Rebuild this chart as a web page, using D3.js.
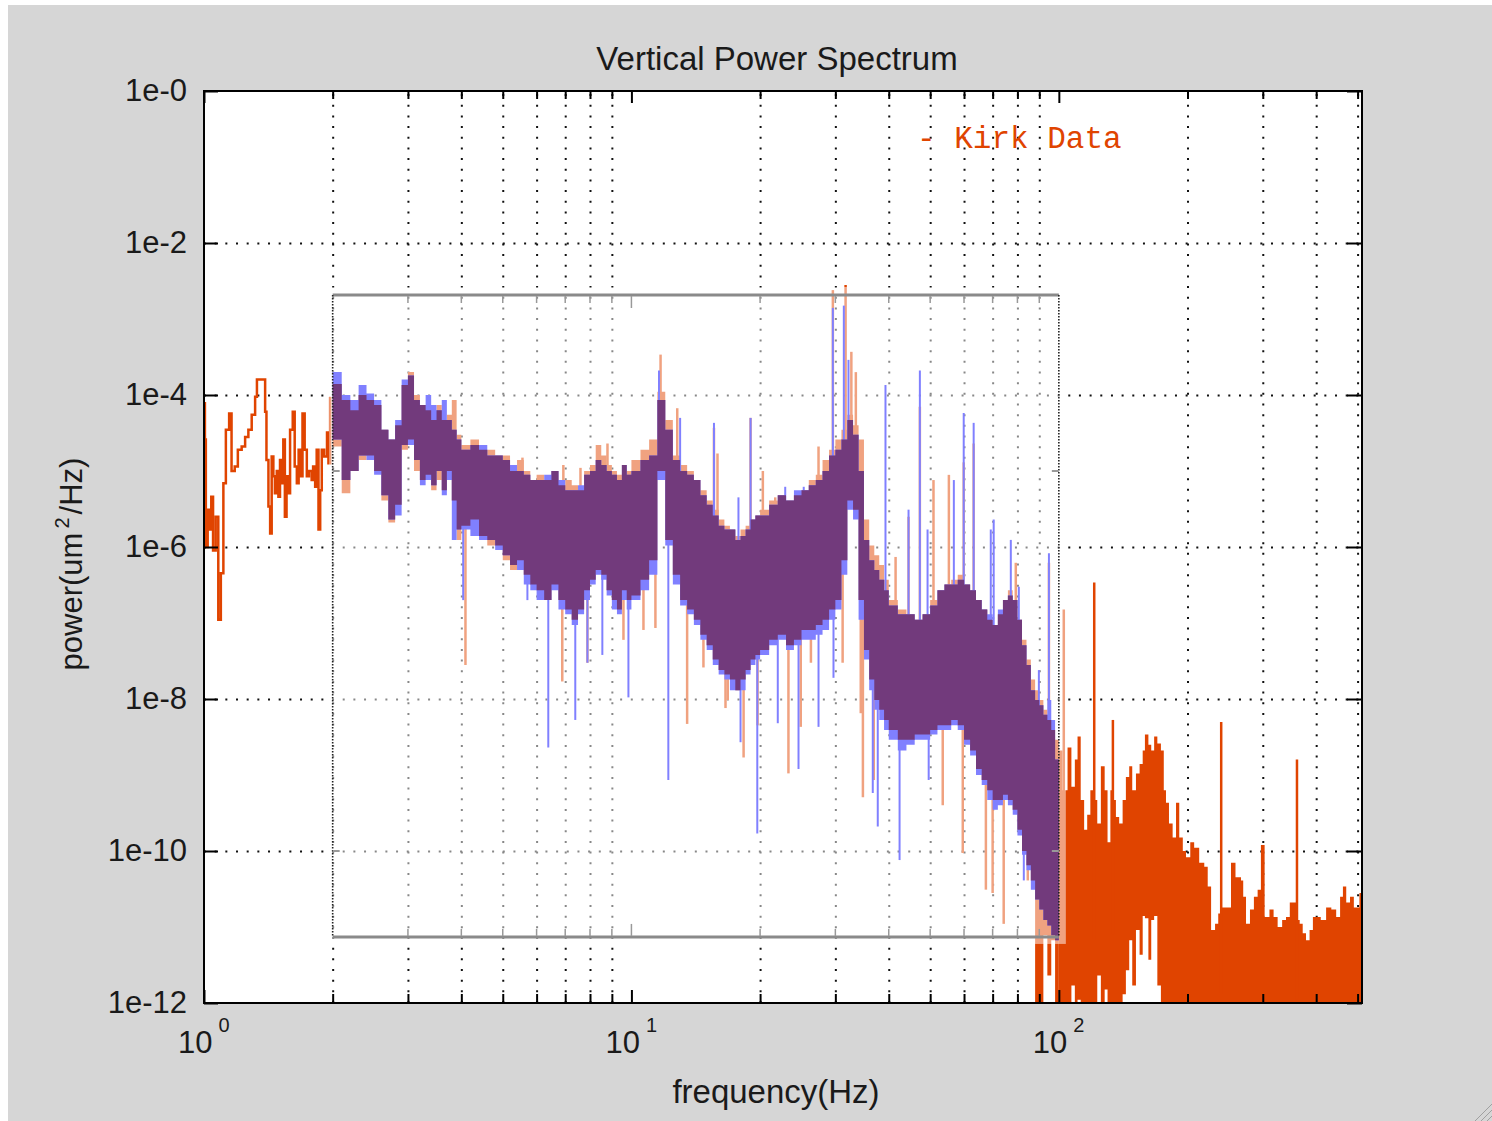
<!DOCTYPE html>
<html><head><meta charset="utf-8">
<script src="https://cdn.jsdelivr.net/npm/d3@7"></script>
<style>
html,body{margin:0;padding:0;background:#fff;}
svg{display:block;}
</style></head>
<body>
<svg id="chart" width="1492" height="1121"></svg>
<script>
// ---------------- DATA ----------------
const titleText = "Vertical Power Spectrum";
const xLabelText = "frequency(Hz)";
const legendText = "- Kirk Data";
const gridFreqs = [2,3,4,5,6,7,8,9,20,30,40,50,60,70,80,90,200,300,400,500];
const majorFreqs = [1,10,100];
const majorExp = ["0","1","2"];
const yTickVals = [1,1e-2,1e-4,1e-6,1e-8,1e-10,1e-12];
const yTickLabels = ["1e-0","1e-2","1e-4","1e-6","1e-8","1e-10","1e-12"];
const yGridVals = [1e-2,1e-4,1e-6,1e-8,1e-10];

// Kirk Data, 1-2 Hz (line)
const kirkLowFreq = [1.0,1.005,1.01,1.02,1.03,1.04,1.05,1.065,1.08,1.095,1.11,1.125,1.145,1.16,1.18,1.2,1.225,1.248,1.27,1.293,1.317,1.33,1.377,1.39,1.4,1.415,1.428,1.44,1.453,1.465,1.48,1.493,1.506,1.52,1.533,1.546,1.56,1.575,1.59,1.613,1.63,1.649,1.665,1.679,1.7,1.72,1.74,1.76,1.786,1.8,1.82,1.835,1.853,1.87,1.886,1.91,1.94,1.955,1.973];
const kirkLowPow = [7.8e-5,2.6e-5,1e-6,3.1e-6,1.7e-6,4.6e-6,9e-7,2.5e-6,1.1e-7,4.5e-7,6.9e-6,3.5e-5,5.7e-5,1e-5,1.15e-5,1.9e-5,2.1e-5,2.8e-5,3.5e-5,5.5e-5,9.5e-5,1.6e-4,1.6e-4,6e-5,1.4e-5,3.4e-6,1.5e-6,1.55e-5,8.5e-6,5.1e-6,1e-5,4.6e-6,1.4e-5,6.9e-6,2.6e-5,2.5e-6,8.5e-6,5.1e-6,3.5e-5,6e-5,1.15e-5,6.9e-6,1.9e-5,8.5e-6,5.7e-5,1.9e-5,8.5e-6,1e-5,7.6e-6,1.15e-5,6.2e-6,1.9e-5,1.7e-6,5.6e-6,1.9e-5,1.55e-5,3.2e-5,1.26e-5,9.5e-5];

// 2-100 Hz bins (bin start frequencies, last entry = end of last bin)
const boxFreq = [2,2.1,2.2,2.3,2.4,2.5,2.6,2.7,2.8,2.9,3,3.1,3.2,3.3,3.4,3.5,3.6,3.7,3.8,3.9,
 4,4.2,4.4,4.6,4.8,5,5.2,5.4,5.6,5.8,
 6,6.25,6.5,6.75,7,7.25,7.5,7.75,8,8.25,8.5,8.75,9,9.25,9.5,9.75,
 10,10.5,11,11.5,12,12.5,13,13.5,14,14.5,15,15.5,16,16.5,17,17.5,18,18.5,19,19.5,
 20,21,22,23,24,25,26,27,28,29,30,31,32,33,34,35,36,37,38,39,
 40,42,44,46,48,50,52,54,56,58,60,62,64,66,68,70,72,74,76,78,80,82,84,86,88,90,92,94,96,98,100];

const kirkBoxHi = [1.4e-4,8.6e-5,6.3e-5,1e-4,8.6e-5,7.4e-5,3.5e-5,2.6e-5,4.0e-5,1.35e-4,
 2.0e-4,1e-4,7.4e-5,6.3e-5,4.7e-5,7.4e-5,4.7e-5,5.5e-5,8.6e-5,3.0e-5,
 2.2e-5,2.6e-5,1.9e-5,1.9e-5,1.6e-5,1.6e-5,1e-5,1.4e-5,1e-5,7.6e-6,
 8.9e-6,7.6e-6,1e-5,6.5e-6,7.6e-6,6.5e-6,5.6e-6,1e-5,1.2e-5,2.2e-5,1.6e-5,1.2e-5,1e-5,8.9e-6,1.2e-5,1e-5,
 1.4e-5,1.9e-5,2.6e-5,1.1e-4,4.7e-5,1.6e-5,1.2e-5,1e-5,7.6e-6,5.6e-6,4.1e-6,3.1e-6,2.3e-6,1.9e-6,1.7e-6,1.4e-6,1.7e-6,1.9e-6,2.3e-6,2.6e-6,
 3.1e-6,4.1e-6,4.8e-6,4.1e-6,4.8e-6,5.6e-6,7.6e-6,8.9e-6,1.4e-5,1.9e-5,2.6e-5,3.5e-5,5.5e-5,4.0e-5,2.6e-5,2.3e-6,1.05e-6,7.8e-7,5.8e-7,3.7e-7,
 2.0e-7,1.5e-7,1.3e-7,1.1e-7,1.3e-7,2.0e-7,2.7e-7,3.2e-7,3.7e-7,4.3e-7,3.2e-7,2.7e-7,2.0e-7,1.5e-7,1.1e-7,9.4e-8,1.3e-7,2.0e-7,2.7e-7,2.0e-7,1.1e-7,6.0e-8,3.3e-8,1.8e-8,1.3e-8,9.7e-9,7.2e-9,5.3e-9,3.9e-9,2.9e-9];
const kirkBoxLo = [2.1e-5,5.1e-6,1e-5,1.4e-5,1.6e-5,1e-5,4.1e-6,2.1e-6,3.6e-6,1.9e-5,
 2.6e-5,1e-5,7.6e-6,8.9e-6,5.6e-6,7.6e-6,5.6e-6,1e-5,4.1e-6,1.24e-6,
 1.9e-6,2.3e-6,1.4e-6,1.05e-6,1.05e-6,6.7e-7,5.0e-7,6.7e-7,4.3e-7,3.2e-7,
 2.7e-7,2.0e-7,3.2e-7,2.0e-7,1.5e-7,1.1e-7,1.5e-7,2.7e-7,3.7e-7,5.0e-7,4.3e-7,2.7e-7,2.0e-7,1.5e-7,2.7e-7,2.0e-7,
 2.3e-7,3.7e-7,6.7e-7,1e-5,1.24e-6,4.3e-7,2.0e-7,1.5e-7,1.1e-7,7.0e-8,5.1e-8,3.3e-8,2.4e-8,2.1e-8,1.8e-8,1.3e-8,1.8e-8,2.4e-8,3.3e-8,3.8e-8,
 4.4e-8,6.0e-8,7.0e-8,5.1e-8,6.0e-8,8.1e-8,8.1e-8,9.4e-8,1.1e-7,1.5e-7,2.0e-7,6.7e-7,4.1e-6,3.1e-6,2.0e-7,4.4e-8,1.8e-8,9.7e-9,7.2e-9,5.3e-9,
 3.9e-9,2.9e-9,2.9e-9,3.4e-9,3.4e-9,3.9e-9,4.5e-9,4.5e-9,5.3e-9,4.5e-9,2.9e-9,2.1e-9,1.2e-9,8.6e-10,6.3e-10,4.7e-10,4.7e-10,5.5e-10,4.7e-10,3.5e-10,1.9e-10,1.0e-10,6.5e-11,4.1e-11,1e-13,1e-13,7.8e-12,2.3e-12,6.7e-12,1e-13];

const refBoxHi = [2.0e-4,1e-4,8.6e-5,1.35e-4,1.05e-4,8.6e-5,3.5e-5,2.6e-5,4.7e-5,1.6e-4,
 1.8e-4,8.6e-5,7.4e-5,1e-4,7.4e-5,6.3e-5,8.6e-5,4.7e-5,3.5e-5,2.6e-5,
 1.9e-5,2.2e-5,2.2e-5,1.6e-5,1.6e-5,1.4e-5,1.2e-5,1e-5,8.9e-6,7.6e-6,
 7.6e-6,8.9e-6,1e-5,7.6e-6,5.6e-6,5.6e-6,6.5e-6,8.9e-6,1e-5,1.4e-5,1.2e-5,1e-5,8.9e-6,7.6e-6,1.2e-5,8.9e-6,
 1e-5,1.4e-5,1.6e-5,8.6e-5,3.5e-5,1.4e-5,1e-5,8.9e-6,7.6e-6,4.8e-6,3.6e-6,2.6e-6,1.9e-6,1.7e-6,1.7e-6,1.24e-6,1.4e-6,1.7e-6,2.3e-6,2.6e-6,
 2.6e-6,3.6e-6,4.8e-6,4.1e-6,5.6e-6,5.6e-6,6.5e-6,7.6e-6,1e-5,1.6e-5,1.9e-5,2.6e-5,4.7e-5,3.0e-5,1e-5,1.24e-6,6.7e-7,5.0e-7,3.7e-7,2.7e-7,
 1.7e-7,1.3e-7,1.3e-7,1.1e-7,1.3e-7,1.7e-7,2.7e-7,3.2e-7,3.2e-7,3.7e-7,3.2e-7,2.7e-7,2.0e-7,1.5e-7,1.3e-7,9.4e-8,1.5e-7,2.0e-7,2.3e-7,2.0e-7,1.1e-7,5.1e-8,2.8e-8,1.3e-8,9.7e-9,8.3e-9,6.2e-9,9.7e-9,5.3e-9,1.6e-9];
const refBoxLo = [2.6e-5,7.6e-6,1e-5,1.6e-5,1.4e-5,8.9e-6,4.8e-6,2.3e-6,2.6e-6,2.2e-5,
 2.2e-5,1.4e-5,6.5e-6,7.6e-6,6.5e-6,1e-5,4.8e-6,7.6e-6,1.24e-6,1.7e-6,
 1.7e-6,1.4e-6,1.24e-6,1.24e-6,9.1e-7,7.8e-7,5.8e-7,5.0e-7,3.2e-7,2.7e-7,
 2.0e-7,2.0e-7,2.7e-7,1.5e-7,1.3e-7,9.4e-8,1.3e-7,2.0e-7,3.2e-7,4.3e-7,3.7e-7,2.3e-7,1.5e-7,1.3e-7,2.0e-7,1.5e-7,
 2.0e-7,2.7e-7,4.3e-7,7.6e-6,1.05e-6,3.2e-7,1.7e-7,1.3e-7,9.4e-8,6.0e-8,4.4e-8,2.8e-8,2.1e-8,1.8e-8,1.3e-8,1.3e-8,1.3e-8,2.1e-8,2.8e-8,3.3e-8,
 3.8e-8,5.1e-8,6.0e-8,4.4e-8,5.1e-8,6.0e-8,6.0e-8,7.0e-8,8.1e-8,1.1e-7,1.5e-7,4.3e-7,3.1e-6,2.3e-6,1.1e-7,3.3e-8,1.3e-8,7.2e-9,5.3e-9,3.9e-9,
 2.9e-9,2.1e-9,2.5e-9,2.9e-9,2.9e-9,3.4e-9,3.9e-9,3.9e-9,4.5e-9,3.9e-9,2.5e-9,1.8e-9,1.0e-9,7.4e-10,4.7e-10,3.5e-10,4.0e-10,4.7e-10,4.0e-10,3.0e-10,1.6e-10,8.9e-11,5.6e-11,3.1e-11,2.3e-11,1.7e-11,1.24e-11,1.05e-11,7.8e-12,6.7e-12];

const kirkSpikeFreq = [4.09,5.56,6.89,6.93,7.60,7.89,8.79,9.58,10.67,11.38,11.7,12.8,13.5,14.74,15.6,15.9,16.6,16.8,18.3,19.0,19.73,20.3,21.7,23.3,24.9,26.3,27.4,29.6,31.2,31.7,32.7,33.5,34.4,34.8,36.9,41.5,44.5,47.3,50.9,53.5,55.3,59.6,59.9,63.2,67.5,70.0,74.3,79.3,84.6,87.4,94.8];
const kirkSpikePow = [2.8e-8,1.5e-5,1.7e-8,1.2e-5,1.1e-5,3.0e-8,2.3e-5,6.0e-8,8.1e-8,8.6e-8,3.4e-4,6.7e-5,4.7e-9,2.6e-8,3.7e-5,1.7e-5,7.6e-9,9.7e-9,1.7e-9,5.0e-5,4.5e-9,1.0e-5,4.5e-6,1.05e-9,4.3e-9,3.0e-8,2.1e-5,2.4e-3,3.0e-8,2.8e-3,3.7e-4,2.0e-4,6.5e-9,5.1e-10,8.6e-10,7.4e-7,2.5e-6,7.0e-5,7.6e-6,4.0e-10,8.9e-6,9.4e-11,1.3e-5,2.3e-5,3.1e-11,2.8e-11,1.1e-11,6.2e-7,4.1e-11,5.1e-11,6.2e-7];
const refSpikeFreq = [4.04,5.71,6.39,7.39,7.89,8.55,9.84,11.6,12.2,13.0,15.6,17.8,18.0,19.0,19.7,22.0,22.9,24.6,25.3,27.4,29.6,29.7,31.4,32.2,36.7,37.7,39.3,40.4,42.4,44.5,47.3,49.3,49.6,56.8,59.9,63.2,69.3,70.4,77.2,80.6,82.8,89.8,94.8,97.3];
const refSpikePow = [2.0e-7,2.0e-7,2.3e-9,5.3e-9,3.0e-8,3.8e-8,1.05e-8,2.1e-4,8.6e-10,5.0e-5,4.3e-5,4.5e-6,2.7e-9,5.0e-5,1.7e-10,4.8e-9,6.2e-6,1.2e-9,6.2e-6,4.3e-9,1.4e-3,1.9e-8,1.5e-3,2.9e-4,5.8e-10,2.1e-10,1.35e-4,3.6e-9,7.6e-11,3.1e-6,2.1e-4,1.7e-6,8.6e-10,7.6e-6,5.8e-5,4.3e-5,1.7e-6,2.3e-6,1.24e-6,3.0e-7,4.1e-11,2.4e-8,8.3e-7,9.1e-12];

// Kirk Data, 100-512 Hz (dense band)
const highFreq = [100,102,104.8,107,109,110.6,112.5,114.6,116.5,118.5,
 121,123,125.4,128,130,132,134,136,138.4,141,
 143.5,146.1,148.5,151.5,154.5,157.1,159,162,164.5,167.1,
 170,173.3,176,178.1,181,184.6,188,191.3,195,198.4,
 203,207.3,213,218.9,223,227.1,232,236,239.8,246,
 252.8,259,266.8,270,274.1,280,286,291.8,297,303,
 311,318,325,333,340,347,353,360.7,366,372,
 378.7,386,393,399.8,410,422,434,445.5,455,462,
 470.3,480,490,496.4,505,512];
const highHi = [2.1e-9,6.3e-10,2.3e-9,7.0e-10,1.6e-9,3.2e-9,4.7e-10,1.9e-10,3.0e-10,6.3e-10,
 4.7e-10,2.3e-10,1.3e-9,6.3e-10,1.3e-10,6.3e-10,4.7e-10,2.8e-10,2.3e-10,4.7e-10,
 9.4e-10,1.3e-9,6.3e-10,1.05e-9,1.4e-9,2.1e-9,3.4e-9,2.5e-9,2.1e-9,3.2e-9,
 2.6e-9,2.1e-9,6.3e-10,4.3e-10,2.3e-10,1.5e-10,4.3e-10,1.5e-10,1.0e-10,8.3e-11,
 1.3e-10,1.1e-10,7.0e-11,6.2e-11,3.4e-11,9.1e-12,1.1e-11,1.5e-11,1.8e-11,1.8e-11,
 7.0e-11,4.5e-11,4.1e-11,2.5e-11,1.1e-11,1.7e-11,2.5e-11,3.1e-11,1.2e-10,1.35e-11,
 1.7e-11,1.35e-11,1.0e-11,1.24e-11,1.35e-11,2.1e-11,2.1e-11,1.24e-11,1.1e-11,8.3e-12,
 6.7e-12,9.1e-12,1.35e-11,1.35e-11,1.24e-11,1.8e-11,1.7e-11,1.35e-11,2.5e-11,3.4e-11,
 2.1e-11,2.5e-11,1.8e-11,1.8e-11,2.8e-11];
const highLo = [1e-13,1e-13,1e-13,1.7e-12,1e-13,1.1e-12,1e-13,1e-13,1e-13,1e-13,
 1e-13,2.3e-12,1e-13,1.5e-12,1e-13,1e-13,1e-13,1e-13,1e-13,1.3e-12,
 2.7e-12,6.7e-12,1.7e-12,9.1e-12,4.3e-12,1.4e-11,1.3e-11,3.7e-12,1.24e-11,1.4e-11,
 1.7e-12,1e-13,1e-13,1e-13,1e-13,1e-13,1e-13,1e-13,1e-13,1e-13,
 1e-13,1e-13,1e-13,1e-13,1e-13,1e-13,1e-13,1e-13,1e-13,1e-13,
 1e-13,1e-13,1e-13,1e-13,1e-13,1e-13,1e-13,1e-13,1e-13,1e-13,
 1e-13,1e-13,1e-13,1e-13,1e-13,1e-13,1e-13,1e-13,1e-13,1e-13,
 1e-13,1e-13,1e-13,1e-13,1e-13,1e-13,1e-13,1e-13,1e-13,1e-13,
 1e-13,1e-13,1e-13,1e-13,1e-13];
const highSpikeFreq = [102.7,121,133.8,239.8,360.7];
const highSpikePow = [1.5e-7,3.4e-7,5.3e-9,5.0e-9,1.6e-9];

// inset frame (zoom box) in data units
const insetFreq = [2,100];
const insetPow = [2.07e-3,7.4e-12];
const insetTickFreqs = [3,4,5,6,7,8,9,10,20,30,40,50,60,70,80,90];
const insetTickPows = [1e-5,1e-10];

// ---------------- DRAW ----------------
const W = 1492, H = 1121;
const L = 204, R = 1362, T = 91, B = 1003;
const ORANGE = "#e04400", BLUE = "#8080ff", PURPLE = "#723a7c";
const SANS = "'Liberation Sans',Arial,sans-serif";
const MONO = "'Liberation Mono','Courier New',monospace";
const x = d3.scaleLog().domain([1,512]).range([L,R]);
const y = d3.scaleLog().domain([1e-12,1]).range([B,T]);
const svg = d3.select("#chart");

svg.append("rect").attr("x",8).attr("y",5).attr("width",W-8).attr("height",H-5).attr("fill","#d6d6d6");
svg.append("rect").attr("x",L).attr("y",T).attr("width",R-L).attr("height",B-T).attr("fill","#fff");

// grid
const gxg = svg.append("g").attr("transform",`translate(0,${B})`)
  .call(d3.axisBottom(x).tickValues(gridFreqs).tickSize(-(B-T)).tickFormat(""));
gxg.select(".domain").remove();
gxg.selectAll("line").attr("stroke","#111").attr("stroke-width",2).attr("stroke-dasharray","2 8.67");
const gyg = svg.append("g").attr("transform",`translate(${L},0)`)
  .call(d3.axisLeft(y).tickValues(yGridVals).tickSize(-(R-L)).tickFormat(""));
gyg.select(".domain").remove();
gyg.selectAll("line").attr("stroke","#111").attr("stroke-width",2).attr("stroke-dasharray","2 8.67");

svg.append("clipPath").attr("id","clip").append("rect").attr("x",L).attr("y",T).attr("width",R-L).attr("height",B-T);
const plot = svg.append("g").attr("clip-path","url(#clip)");

const area = d3.area().curve(d3.curveStepAfter).x(d=>x(d.f)).y0(d=>y(d.lo)).y1(d=>y(d.hi));
function bins(freqs, hi, lo){
  const d = hi.map((h,i)=>({f:freqs[i],hi:h,lo:lo[i]}));
  d.push({f:freqs[freqs.length-1],hi:hi[hi.length-1],lo:lo[lo.length-1]});
  return d;
}
function spikes(sf, sp, freqs, hi, lo){
  return sf.map((f,i)=>{
    const k = Math.max(0, Math.min(hi.length-1, d3.bisectRight(freqs,f)-1));
    const base = Math.sqrt(hi[k]*lo[k]);
    return {f:f, p:sp[i], base:base};
  });
}
function drawSpikes(g, data, color, w){
  g.selectAll(null).data(data).enter().append("line")
   .attr("x1",d=>x(d.f)).attr("x2",d=>x(d.f))
   .attr("y1",d=>y(d.p)).attr("y2",d=>y(d.base))
   .attr("stroke",color).attr("stroke-width",w||2);
}

// Kirk data (orange)
plot.append("path").datum(kirkLowFreq.map((f,i)=>[x(f),y(kirkLowPow[i])]))
  .attr("d", d3.line().curve(d3.curveStepAfter))
  .attr("fill","none").attr("stroke",ORANGE).attr("stroke-width",2.5);
plot.append("path").attr("d", area(bins(boxFreq,kirkBoxHi,kirkBoxLo))).attr("fill",ORANGE);
drawSpikes(plot, spikes(kirkSpikeFreq,kirkSpikePow,boxFreq,kirkBoxHi,kirkBoxLo), ORANGE, 2.5);
plot.append("path").attr("d", area(bins(highFreq,highHi,highLo))).attr("fill",ORANGE);
drawSpikes(plot, spikes(highSpikeFreq,highSpikePow,highFreq,highHi,highLo), ORANGE, 2.5);

// inset overlay (semi-transparent)
const ix0 = x(insetFreq[0]), ix1 = x(insetFreq[1]), iy0 = y(insetPow[0]), iy1 = y(insetPow[1]);
plot.append("rect").attr("x",ix0-3.5).attr("y",iy0-8).attr("width",ix1-ix0+10.5).attr("height",iy1-iy0+15)
  .attr("fill","#fff").attr("fill-opacity",0.5);

// second series (blue) + overlap
drawSpikes(plot, spikes(refSpikeFreq,refSpikePow,boxFreq,refBoxHi,refBoxLo), BLUE, 2);
plot.append("path").attr("d", area(bins(boxFreq,refBoxHi,refBoxLo))).attr("fill",BLUE);
const overlap = refBoxHi.map((h,i)=>Math.min(h,kirkBoxHi[i]));
const overlapLo = refBoxLo.map((l,i)=>Math.max(l,kirkBoxLo[i]));
plot.append("path").attr("d", area.defined(d=>d.hi>d.lo)(bins(boxFreq,overlap,overlapLo))).attr("fill",PURPLE);

// inset frame
const fr = svg.append("g");
fr.append("line").attr("x1",ix0).attr("x2",ix1).attr("y1",iy0).attr("y2",iy0).attr("stroke","#8a8a8a").attr("stroke-width",3);
fr.append("line").attr("x1",ix0).attr("x2",ix1).attr("y1",iy1).attr("y2",iy1).attr("stroke","#8a8a8a").attr("stroke-width",3);
[ix0,ix1].forEach(xx=>fr.append("line").attr("x1",xx).attr("x2",xx).attr("y1",iy0).attr("y2",iy1)
  .attr("stroke","#222").attr("stroke-width",1.6).attr("stroke-dasharray","1.4 1.6"));
insetTickFreqs.forEach(f=>{
  const len = f===10?12:7;
  fr.append("line").attr("x1",x(f)).attr("x2",x(f)).attr("y1",iy0+1).attr("y2",iy0+1+len).attr("stroke","#999").attr("stroke-width",1.5);
  fr.append("line").attr("x1",x(f)).attr("x2",x(f)).attr("y1",iy1-1).attr("y2",iy1-1-len).attr("stroke","#999").attr("stroke-width",1.5);
});
insetTickPows.forEach(p=>{
  fr.append("line").attr("x1",ix0).attr("x2",ix0+7).attr("y1",y(p)).attr("y2",y(p)).attr("stroke","#999").attr("stroke-width",2);
  fr.append("line").attr("x1",ix1-7).attr("x2",ix1).attr("y1",y(p)).attr("y2",y(p)).attr("stroke","#999").attr("stroke-width",2);
});

// axes frame and ticks
svg.append("rect").attr("x",L).attr("y",T).attr("width",R-L).attr("height",B-T)
  .attr("fill","none").attr("stroke","#000").attr("stroke-width",2);
function ticks(axis, tr){
  const g = svg.append("g").attr("transform",tr).call(axis);
  g.select(".domain").remove();
  g.selectAll("line").attr("stroke","#000").attr("stroke-width",2);
  return g;
}
ticks(d3.axisBottom(x).tickValues(gridFreqs).tickSize(-9).tickFormat(""), `translate(0,${B})`);
ticks(d3.axisBottom(x).tickValues(majorFreqs).tickSize(-13).tickFormat(""), `translate(0,${B})`);
ticks(d3.axisTop(x).tickValues(gridFreqs).tickSize(-8).tickFormat(""), `translate(0,${T})`);
ticks(d3.axisTop(x).tickValues(majorFreqs).tickSize(-12).tickFormat(""), `translate(0,${T})`);
ticks(d3.axisRight(y).tickValues(yTickVals).tickSize(-15).tickFormat(""), `translate(${R},0)`);
const yl = ticks(d3.axisLeft(y).tickValues(yTickVals).tickSize(-14).tickPadding(17)
  .tickFormat((d,i)=>yTickLabels[i]), `translate(${L},0)`);
yl.attr("font-size",null).attr("font-family",null);
yl.selectAll("text").style("font-size","31px").style("font-family",SANS).attr("fill","#1a1a1a");

// x tick labels 10^n
majorFreqs.forEach((f,i)=>{
  const t = svg.append("text").attr("x",x(f)-26).attr("y",1053).style("font-family",SANS).style("font-size","31px").attr("fill","#1a1a1a");
  t.append("tspan").text("10");
  t.append("tspan").attr("dx",6).attr("dy",-21).style("font-size","20px").text(majorExp[i]);
});

// titles
svg.append("text").attr("x",777).attr("y",70).attr("text-anchor","middle").style("font-family",SANS).style("font-size","33px").attr("fill","#1a1a1a").text(titleText);
svg.append("text").attr("x",776).attr("y",1103).attr("text-anchor","middle").style("font-family",SANS).style("font-size","33px").attr("fill","#1a1a1a").text(xLabelText);
const ylab = svg.append("text").attr("transform","translate(82,564) rotate(-90)").attr("text-anchor","middle")
  .style("font-family",SANS).style("font-size","31px").attr("fill","#1a1a1a");
ylab.append("tspan").text("power(um");
ylab.append("tspan").attr("dx",4).attr("dy",-13).style("font-size","20px").text("2");
ylab.append("tspan").attr("dx",3).attr("dy",13).text("/Hz)");

// legend
svg.append("text").attr("x",917).attr("y",148).style("font-family",MONO).style("font-size","31px")
  .style("white-space","pre").attr("fill",ORANGE).text(legendText);

// window resize grip
[[1104,1475],[1110,1481],[1116,1487]].forEach(([yy,xx])=>svg.append("line").attr("x1",1492).attr("y1",yy).attr("x2",xx).attr("y2",1121).attr("stroke","#a0a0a0").attr("stroke-width",1));
</script>
</body></html>
